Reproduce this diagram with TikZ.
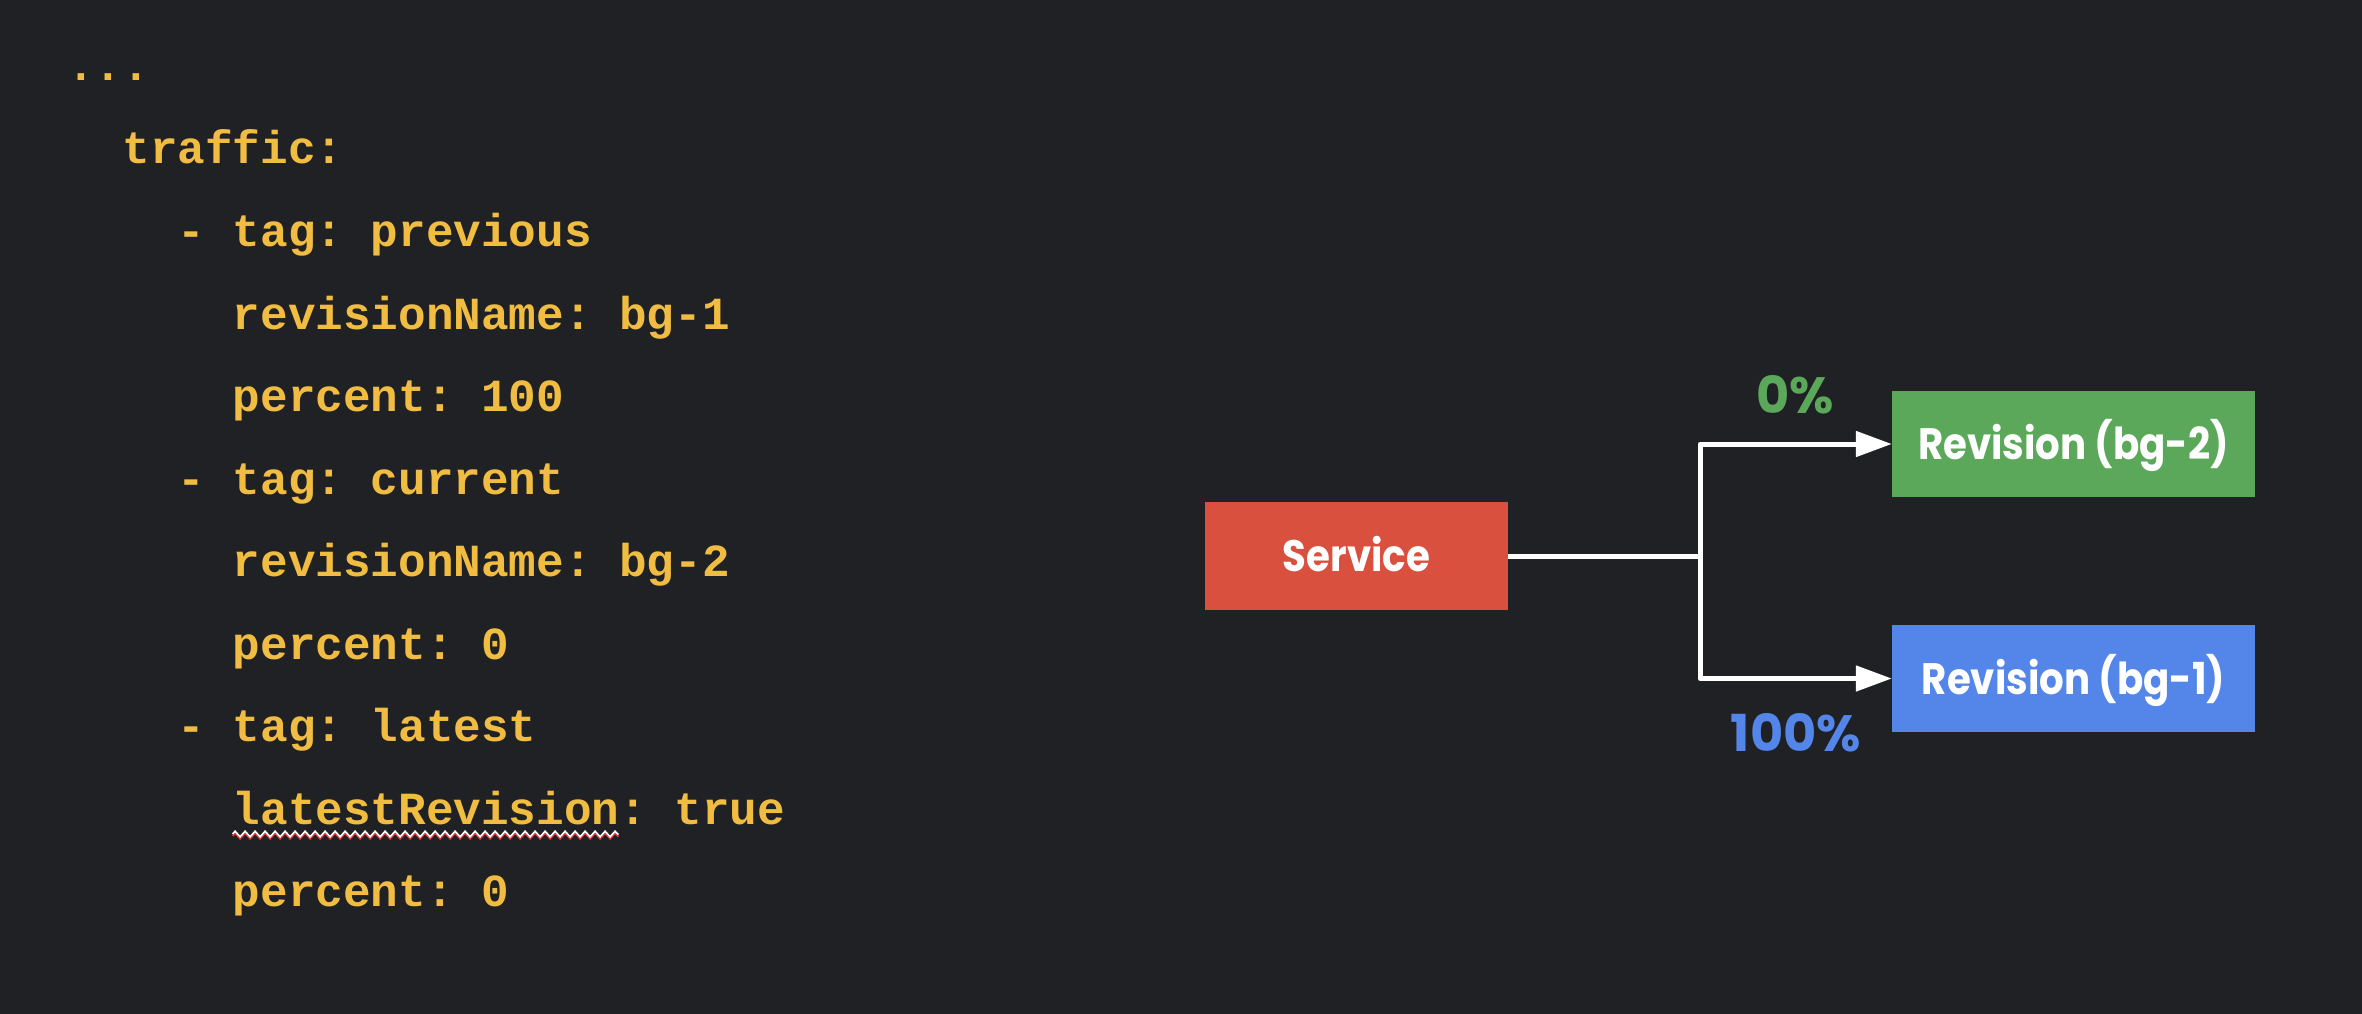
\documentclass[tikz,border=0pt]{standalone}
\usepackage{fontspec}
\newfontfamily\codefont{Liberation Mono}
\newfontfamily\gsans{Poppins}
\newfontfamily\gsansn{Poppins}[FakeStretch=0.88]
\usetikzlibrary{arrows.meta,decorations.pathmorphing}
\frenchspacing
\definecolor{bgc}{HTML}{202124}
\definecolor{codeyellow}{HTML}{F0BC42}
\definecolor{svcred}{HTML}{D9503F}
\definecolor{revgreen}{HTML}{5BA85B}
\definecolor{revblue}{HTML}{5486EA}
\definecolor{squig}{HTML}{E03A3A}
\tikzset{
  code/.style={font=\codefont\bfseries\fontsize{46}{46}\selectfont, text=codeyellow, anchor=base west, inner sep=0pt},
  box/.style={inner sep=0pt, text=white, font=\gsansn\bfseries\fontsize{44}{44}\selectfont, text height=31pt, text depth=0pt},
  pct/.style={inner sep=0pt, anchor=base, font=\gsans\bfseries\fontsize{51}{51}\selectfont},
  conn/.style={draw=white, line width=5pt, line join=round},
  arr/.style={conn, -{Triangle[length=36pt,width=25pt]}},
  wavy/.style={line width=1.6pt, decorate, decoration={zigzag, segment length=10pt, amplitude=2.8pt}},
}
\begin{document}
\begin{tikzpicture}[x=1pt,y=-1pt]
\fill[bgc] (0,0) rectangle (2362,1014);
\useasboundingbox (0,0) rectangle (2362,1014);
% code lines: col width 27.6, col0 = 67
\node[code] (c0) at (67,81) {...};
\node[code] (c1) at (122.2,164) {traffic:};
\node[code] (c2) at (177.4,246.5) {- tag: previous};
\node[code] (c3) at (232.6,329) {revisionName: bg-1};
\node[code] (c4) at (232.6,411.5) {percent: 100};
\node[code] (c5) at (177.4,494) {- tag: current};
\node[code] (c6) at (232.6,576.5) {revisionName: bg-2};
\node[code] (c7) at (232.6,659) {percent: 0};
\node[code] (c8) at (177.4,741.5) {- tag: latest};
\node[code] (c9) at (232.6,824) {latestRevision: true};
\node[code] (c10) at (232.6,906.5) {percent: 0};
\draw[squig, wavy] ([yshift=-12pt]c9.base west) -- ++(386,0);
\draw[white, wavy] ([yshift=-10pt]c9.base west) -- ++(386,0);
% diagram
\node[box, fill=svcred, minimum width=303pt, minimum height=108pt] (svc) at (1356.5,556) {Service};
\node[box, fill=revgreen, minimum width=363pt, minimum height=106pt] (rev2) at (2073.5,444) {Revision (bg-2)};
\node[box, fill=revblue, minimum width=363pt, minimum height=107pt] (rev1) at (2073.5,678.5) {Revision (bg-1)};
\coordinate (junc) at (1700,556);
\draw[conn] (svc.east) -- (junc);
\draw[arr] (junc) |- (rev2.west);
\draw[arr] (junc) |- (rev1.west);
\node[pct, text=revgreen] (p0) at (1795,413) {0\%};
\node[pct, text=revblue] (p100) at (1796,751) {100\%};
\end{tikzpicture}
\end{document}
